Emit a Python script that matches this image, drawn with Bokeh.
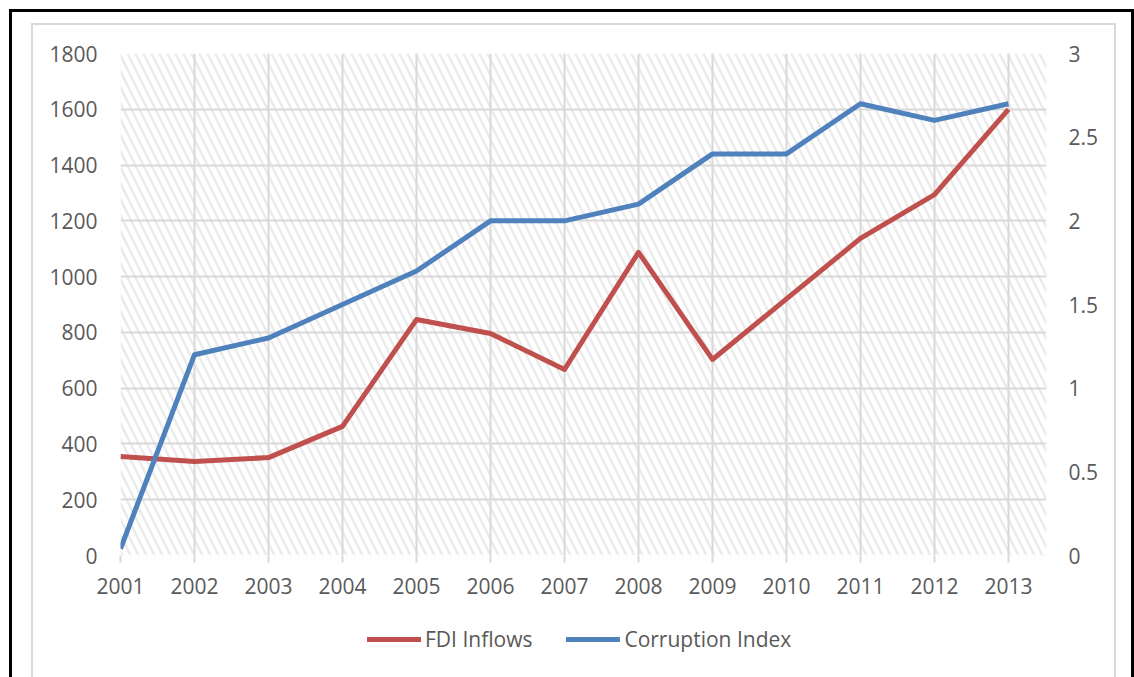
from bokeh.plotting import figure
from bokeh.layouts import column, row
from bokeh.models import (Range1d, LinearAxis, BoxAnnotation, Legend, LegendItem,
                          FixedTicker, ColumnDataSource, Div)
from bokeh.embed import file_html
from bokeh.resources import INLINE

years = [2001, 2002, 2003, 2004, 2005, 2006, 2007, 2008, 2009, 2010, 2011, 2012, 2013]
fdi_inflows = [355, 337, 351, 463, 846, 796, 667, 1087, 703, 920, 1137, 1294, 1600]
corruption_index = [0.04, 1.2, 1.3, 1.5, 1.7, 2.0, 2.0, 2.1, 2.4, 2.4, 2.7, 2.6, 2.7]
left_ticks = [0, 200, 400, 600, 800, 1000, 1200, 1400, 1600, 1800]
right_ticks = [0, 0.5, 1, 1.5, 2, 2.5, 3]
series_names = ["FDI Inflows", "Corruption Index"]

FONT = "Open Sans"
FSIZE = "21px"
TXT = "#595959"
GRID = "#D9D9D9"
RED = "#C0504D"
BLUE = "#4F81BD"
LW = 5

src = ColumnDataSource(dict(year=years, fdi=fdi_inflows, corr=corruption_index))

p = figure(frame_width=926, frame_height=502, output_backend="svg", toolbar_location=None,
           x_range=Range1d(2001, 2013.514), y_range=Range1d(0, 1800),
           min_border_left=120, min_border_right=88, min_border_top=53, min_border_bottom=52)
p.extra_y_ranges = {"right": Range1d(0, 3)}
p.outline_line_color = None
p.background_fill_color = "white"
p.border_fill_color = "white"

# hatched plot-area background
hatch = BoxAnnotation(fill_alpha=0, line_alpha=0, hatch_pattern="left_diagonal_line",
                      hatch_color="#EBEBEB", hatch_weight=2.5, hatch_scale=16, level="image")
p.add_layout(hatch)

# grids
p.xgrid.ticker = FixedTicker(ticks=years)
p.ygrid.ticker = FixedTicker(ticks=left_ticks)
for g in (p.xgrid, p.ygrid):
    g.grid_line_color = GRID
    g.grid_line_width = 2

# bottom axis
xa = p.xaxis[0]
xa.ticker = FixedTicker(ticks=years)
xa.axis_line_color = None
xa.major_tick_line_color = GRID
xa.major_tick_line_width = 2
xa.major_tick_out = 7
xa.major_tick_in = 0
xa.minor_tick_line_color = None
xa.major_label_standoff = 15

# left axis
ya = p.yaxis[0]
ya.ticker = FixedTicker(ticks=left_ticks)
ya.axis_line_color = None
ya.major_tick_line_color = None
ya.minor_tick_line_color = None
ya.major_tick_out = 0
ya.major_tick_in = 0
ya.major_label_standoff = 23

# right axis
ra = LinearAxis(y_range_name="right", ticker=FixedTicker(ticks=right_ticks))
ra.axis_line_color = None
ra.major_tick_line_color = None
ra.minor_tick_line_color = None
ra.major_tick_out = 0
ra.major_tick_in = 0
ra.major_label_standoff = 22
p.add_layout(ra, "right")

for ax in (xa, ya, ra):
    ax.major_label_text_font = FONT
    ax.major_label_text_font_size = FSIZE
    ax.major_label_text_color = TXT

p.line("year", "fdi", source=src, line_color=RED, line_width=LW, line_join="round")
p.line("year", "corr", source=src, y_range_name="right", line_color=BLUE,
       line_width=LW, line_join="round")

# legend strip (separate figure so the legend sits inside a frame); its
# series renderers are outside this strip's ranges, only the legend shows
lg = figure(width=1133, height=70, output_backend="svg", toolbar_location=None,
            x_range=Range1d(0, 1), y_range=Range1d(0, 1), min_border=0)
lg.axis.visible = False
lg.grid.visible = False
lg.outline_line_color = None
lg.border_fill_color = "white"
l1 = lg.line("year", "fdi", source=src, line_color=RED, line_width=LW, line_cap="round")
l2 = lg.line("year", "corr", source=src, line_color=BLUE, line_width=LW, line_cap="round")
legend = Legend(items=[LegendItem(label=series_names[0], renderers=[l1]),
                       LegendItem(label=series_names[1], renderers=[l2])],
                orientation="horizontal", location=(367, 24),
                glyph_width=54, glyph_height=20, label_standoff=4, spacing=34,
                padding=0, margin=0, border_line_color=None, background_fill_alpha=0,
                label_text_font=FONT, label_text_font_size=FSIZE, label_text_color=TXT,
                label_height=20)
lg.add_layout(legend, "center")

borders = Div(width=1, height=1, text=(
    '<div style="position:fixed;left:9px;top:9px;width:1125px;height:720px;'
    'border:3px solid #000;box-sizing:border-box;pointer-events:none;"></div>'
    '<div style="position:fixed;left:31px;top:23px;width:1085px;height:720px;'
    'border:2px solid #D9D9D9;box-sizing:border-box;pointer-events:none;"></div>'))

layout = column(p, row(lg, borders, spacing=0), spacing=0)

open("out.html", "w").write(file_html(layout, INLINE))
